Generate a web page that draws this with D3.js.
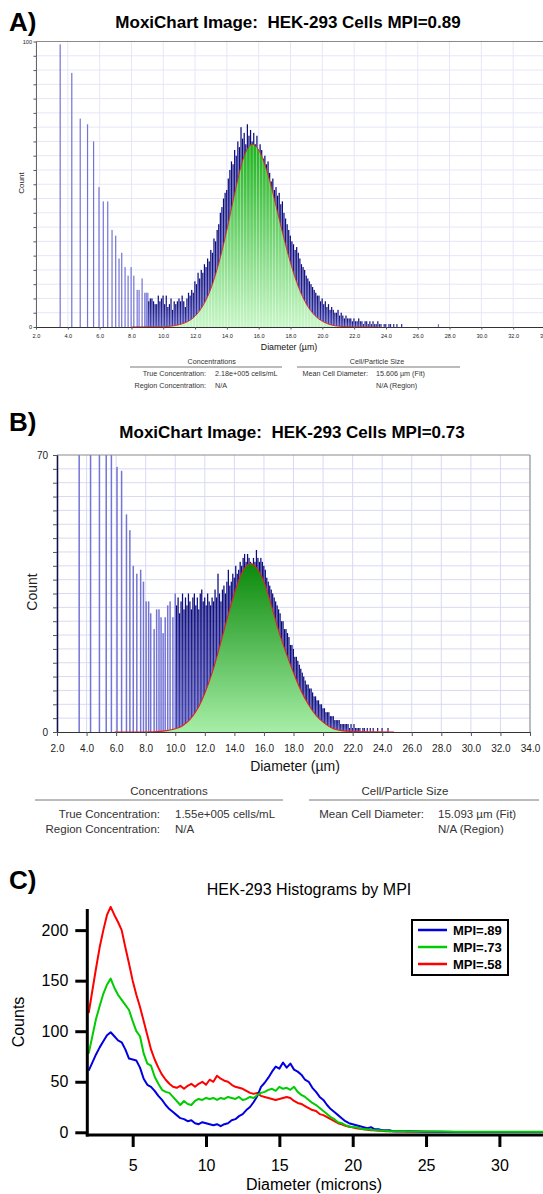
<!DOCTYPE html>
<html>
<head>
<meta charset="utf-8">
<script src="https://cdn.jsdelivr.net/npm/d3@7"></script>
<style>
  body { margin: 0; background: #fff; }
  svg { display: block; }
</style>
</head>
<body>
<script>
var FONT = '"Liberation Sans", Arial, sans-serif';

// ---- panel A: MoxiChart, MPI=0.89 ----
var aSpikeX = [2.02, 3.52, 4.25, 4.78, 5.24, 5.62, 5.96, 6.23, 6.51, 6.78, 7.01, 7.22, 7.39, 7.60, 7.79, 7.98,
               8.15, 8.36, 8.48, 8.67, 8.84, 8.93, 9.03, 27.3];
var aSpikeN = [60, 99, 89, 73, 71, 65, 49, 44, 44, 34, 32, 24, 26, 21, 18, 21,
               18, 13, 13, 17, 12, 12, 12, 1];
// counts per 0.1 um bin, 9.1 .. 25.0
var aBinN = [
  9, 10, 10, 9, 8, 8, 11, 9, 10, 11,
  8, 11, 7, 8, 10, 6, 9, 8, 9, 10,
  9, 11, 9, 7, 10, 12, 11, 13, 12, 16,
  15, 19, 17, 20, 19, 22, 21, 24, 23, 27,
  26, 31, 30, 34, 36, 40, 42, 45, 47, 48,
  52, 55, 58, 57, 62, 60, 65, 63, 70, 66,
  68, 64, 71, 67, 69, 65, 68, 64, 67, 61,
  64, 62, 59, 60, 57, 58, 54, 51, 52, 48,
  49, 46, 47, 43, 44, 40, 38, 36, 34, 32,
  30, 29, 27, 28, 26, 24, 22, 21, 20, 18,
  17, 16, 15, 14, 13, 12, 11, 11, 9, 10,
  8, 9, 7, 8, 6, 7, 6, 5, 5, 6,
  4, 5, 4, 3, 4, 3, 3, 3, 2, 3,
  2, 2, 3, 2, 2, 1, 2, 2, 1, 2,
  1, 2, 1, 1, 2, 1, 1, 0, 1, 1,
  0, 1, 1, 0, 1, 0, 1, 0, 0, 1
];
var aFitX = [8, 10, 10.5, 11, 11.5, 12, 12.5, 13, 13.5, 14, 14.5, 15, 15.6, 16, 16.5, 17, 17.5,
             18, 18.5, 19, 19.5, 20, 20.5, 21, 22, 23.5];
var aFitN = [0, 0.1, 0.3, 0.8, 1.8, 3.8, 7.5, 13.5, 22.5, 34, 47, 58.5, 64, 62, 55, 44.5, 33,
             22.5, 14, 8, 4.2, 2, 0.8, 0.3, 0, 0];

// ---- panel B: MoxiChart, MPI=0.73 ----
var bSpikeX = [2.02, 3.50, 4.27, 4.87, 5.33, 5.68, 6.06, 6.37, 6.70, 6.93, 7.16, 7.40, 7.66, 7.85,
               8.03, 8.20, 8.34, 8.57, 8.74, 8.90, 9.04, 9.18, 9.32, 9.49, 9.65, 9.84, 10.0];
var bSpikeN = [75, 95, 90, 84, 78, 74, 67, 66, 55, 51, 42, 40, 41, 38,
               33, 33, 30, 26, 31, 31, 29, 25, 29, 32, 33, 29, 35];
// counts per 0.1 um bin, 10.1 .. 25.0
var bBinN = [
  32, 34, 30, 33, 35, 31, 34, 32, 35, 33,
  31, 34, 35, 32, 34, 31, 35, 36, 33, 34,
  32, 35, 33, 32, 34, 33, 36, 34, 40, 35,
  33, 36, 37, 35, 38, 41, 37, 38, 40, 39,
  42, 40, 41, 43, 42, 44, 45, 43, 45, 44,
  43, 42, 44, 43, 46, 44, 43, 44, 43, 42,
  41, 39, 38, 37, 36, 35, 34, 33, 32, 31,
  30, 28, 28, 26, 26, 25, 24, 22, 22, 21,
  19, 19, 18, 17, 16, 15, 14, 13, 12, 12,
  11, 11, 10, 9, 9, 8, 8, 7, 7, 6,
  6, 5, 5, 5, 4, 4, 4, 3, 3, 3,
  3, 2, 2, 2, 2, 2, 2, 1, 2, 1,
  2, 1, 1, 1, 1, 0, 1, 1, 0, 1,
  0, 1, 0, 1, 0, 0, 1, 0, 0, 1,
  0, 0, 0, 1, 0, 0, 0, 0, 0, 0
];
var bFitX = [5.9, 8, 9, 10, 10.5, 11, 11.5, 12, 12.5, 13, 13.5, 14, 14.5, 15.09, 15.5, 16, 16.5,
             17, 17.5, 18, 18.5, 19, 19.5, 20, 20.5, 21, 22, 24.8];
var bFitN = [0, 0, 0.15, 0.8, 1.6, 3.2, 5.8, 9.8, 15, 21.5, 28.5, 35, 40.2, 42.6, 41.5, 38, 32,
             25.5, 20, 15, 10.5, 7, 4.3, 2.5, 1.2, 0.5, 0.1, 0];

var xTicksAB = [2, 4, 6, 8, 10, 12, 14, 16, 18, 20, 22, 24, 26, 28, 30, 32, 34];

// ---- panel C: overlaid histograms ----
var cDiam = [
  2.0, 2.25, 2.5, 2.75, 3.0, 3.25, 3.5, 3.75, 4.0, 4.25,
  4.5, 4.75, 5.0, 5.25, 5.5, 5.75, 6.0, 6.25, 6.5, 6.75,
  7.0, 7.25, 7.5, 7.75, 8.0, 8.25, 8.5, 8.75, 9.0, 9.25,
  9.5, 9.75, 10.0, 10.25, 10.5, 10.75, 11.0, 11.25, 11.5, 11.75,
  12.0, 12.25, 12.5, 12.75, 13.0, 13.25, 13.5, 13.75, 14.0, 14.25,
  14.5, 14.75, 15.0, 15.25, 15.5, 15.75, 16.0, 16.25, 16.5, 16.75,
  17.0, 17.25, 17.5, 17.75, 18.0, 18.25, 18.5, 18.75, 19.0, 19.25,
  19.5, 19.75, 20.0, 20.25, 20.5, 20.75, 21.0, 21.25, 21.5, 21.75,
  22.0, 22.25, 22.5, 22.75, 23.0, 23.25, 23.5, 23.75, 24.0,
  25, 26, 27, 28, 29, 30, 31, 32, 33
];
var cMpi89 = [
  61, 69, 77, 84, 90, 96, 99, 95, 91, 89,
  82, 73, 72, 71, 64, 53, 47, 45, 41, 36,
  32, 27, 23, 20, 17, 14, 13, 11, 12, 9,
  8, 10, 9, 8, 7, 8, 6, 8, 9, 12,
  13, 16, 18, 22, 25, 30, 36, 45, 49, 54,
  60, 65, 63, 69, 64, 68, 62, 60, 57, 52,
  50, 44, 40, 35, 32, 27, 23, 20, 17, 14,
  11, 9, 8, 7, 6, 5, 4, 5, 3, 3,
  2, 2, 2, 1, 1, 1, 1, 1, 1,
  0.5, 0.5, 0.3, 0.3, 0.2, 0.2, 0.2, 0.2, 0.2
];
var cMpi73 = [
  78, 95, 112, 125, 137, 146, 152, 143, 136, 131,
  126, 121, 110, 100, 95, 78, 68, 66, 55, 48,
  42, 40, 39, 35, 31, 27, 31, 28, 27, 31,
  33, 32, 34, 33, 34, 32, 34, 33, 35, 34,
  33, 35, 32, 33, 35, 34, 37, 39, 40, 42,
  43, 41, 45, 43, 44, 42, 45, 40, 37, 35,
  32, 29, 27, 24, 21, 18, 15, 13, 10, 9,
  7, 6, 5, 5, 4, 3, 3, 2.5, 2, 2,
  1.5, 1.5, 1, 1, 1, 1, 1, 0.8, 0.8,
  0.8, 0.7, 0.6, 0.5, 0.5, 0.5, 0.5, 0.5, 0.5
];
var cMpi58 = [
  118, 140, 162, 183, 200, 215, 223, 215, 208, 200,
  183, 167, 150, 136, 124, 110, 96, 82, 72, 64,
  57, 52, 48, 45, 44, 46, 43, 46, 48, 45,
  48, 50, 47, 52, 50, 56, 53, 51, 50, 47,
  45, 44, 43, 41, 39, 38, 39, 36, 35, 34,
  33, 32, 33, 34, 35, 34, 31, 29, 28, 26,
  24, 22, 21, 18, 17, 15, 13, 11, 9, 8,
  6.5, 5.5, 5, 4, 3.5, 3, 2.5, 2, 2, 1.5,
  1.5, 1, 1, 1, 0.8, 0.8, 0.7, 0.6, 0.6,
  0.5, 0.4, 0.3, 0.3, 0.3, 0.3, 0.3, 0.3, 0.3
];
var cNames  = ['MPI=.89', 'MPI=.73', 'MPI=.58'],
    cColors = ['#0000e0', '#00cc00', '#ff0000'],
    cYTicks = [0, 50, 100, 150, 200],
    cXTicks = [5, 10, 15, 20, 25, 30];


var svg = d3.select('body').append('svg')
    .attr('width', 543).attr('height', 1194)
    .attr('font-family', FONT);
var defs = svg.append('defs');

function vgrad(id, top, bottom) {
  var g = defs.append('linearGradient').attr('id', id)
      .attr('x1', 0).attr('y1', 0).attr('x2', 0).attr('y2', 1);
  g.append('stop').attr('offset', 0).attr('stop-color', top);
  g.append('stop').attr('offset', 1).attr('stop-color', bottom);
}
vgrad('blueBar', '#0a0a7c', '#4848b4');
vgrad('greenA', '#1eb21e', '#c8f6c8');
vgrad('greenB', '#0b8a0b', '#a6eea6');

defs.append('pattern').attr('id', 'gaps').attr('patternUnits', 'userSpaceOnUse')
    .attr('width', 3.2).attr('height', 10)
  .append('rect').attr('width', 0.7).attr('height', 10).attr('fill', '#fff').attr('opacity', 0.5);

function label(g, x, y, s, size, anchor, weight, fill) {
  return g.append('text')
      .attr('x', x).attr('y', y)
      .attr('font-size', size)
      .attr('text-anchor', anchor || 'start')
      .attr('font-weight', weight || 'normal')
      .attr('fill', fill || '#000')
      .style('white-space', 'pre')
      .text(s);
}

// one MoxiChart histogram panel
function moxi(o) {
  var x = d3.scaleLinear().domain([2, 34]).range([o.left, o.right]),
      y = d3.scaleLinear().domain([0, o.ymax]).range([o.bottom, o.top]),
      g = svg.append('g'),
      binPx = x(2.1) - x(2);

  defs.append('clipPath').attr('id', 'clip' + o.id)
    .append('rect')
      .attr('x', o.left).attr('y', o.top)
      .attr('width', o.right - o.left).attr('height', o.bottom - o.top);

  // grid
  g.selectAll('.vg').data(xTicksAB).enter().append('line')
      .attr('x1', x).attr('x2', x)
      .attr('y1', o.top).attr('y2', o.bottom)
      .attr('stroke', o.grid);
  g.selectAll('.hg').data(d3.range(1, 20)).enter().append('line')
      .attr('x1', o.left).attr('x2', o.right)
      .attr('y1', function(i) { return y(i * o.ymax / 20); })
      .attr('y2', function(i) { return y(i * o.ymax / 20); })
      .attr('stroke', o.grid);

  var plot = g.append('g').attr('clip-path', 'url(#clip' + o.id + ')');

  plot.selectAll('.spike').data(d3.zip(o.spikeX, o.spikeN)).enter().append('rect')
      .attr('x', function(d) { return x(d[0]) - o.spikeW / 2; })
      .attr('width', o.spikeW)
      .attr('y', function(d) { return y(d[1]); })
      .attr('height', function(d) { return y(0) - y(d[1]); })
      .attr('fill', '#7474d4');

  var bins = o.binN.map(function(n, i) { return [o.binStart + i * 0.1, n]; });
  plot.selectAll('.bin').data(bins).enter().append('rect')
      .attr('x', function(d) { return x(d[0]) - binPx / 2; })
      .attr('width', binPx * o.fill)
      .attr('y', function(d) { return y(d[1]); })
      .attr('height', function(d) { return y(0) - y(d[1]); })
      .attr('fill', 'url(#blueBar)');

  // gaussian fit
  var fit = d3.zip(o.fitX, o.fitN);
  var area = d3.area()
      .x(function(d) { return x(d[0]); })
      .y0(y(0))
      .y1(function(d) { return y(d[1]); })
      .curve(d3.curveMonotoneX);
  plot.append('path').attr('d', area(fit)).attr('fill', 'url(#' + o.green + ')');
  if (o.gaps) plot.append('path').attr('d', area(fit)).attr('fill', 'url(#gaps)');
  plot.append('path')
      .attr('d', d3.line().x(function(d) { return x(d[0]); })
                          .y(function(d) { return y(d[1]); })
                          .curve(d3.curveMonotoneX)(fit))
      .attr('fill', 'none').attr('stroke', '#e5231b').attr('stroke-width', o.redW);

  // frame
  g.append('line').attr('x1', o.left).attr('x2', o.right).attr('y1', o.top).attr('y2', o.top)
      .attr('stroke', '#8a8a8a');
  g.append('line').attr('x1', o.right).attr('x2', o.right).attr('y1', o.top).attr('y2', o.bottom)
      .attr('stroke', '#8a8a8a');

  var yAxis = d3.axisLeft(y)
      .tickValues(d3.range(0, 21).map(function(i) { return i * o.ymax / 20; }))
      .tickFormat(function(d) { return d === 0 || d === o.ymax ? d : ''; })
      .tickSize(o.tk).tickSizeOuter(0).tickPadding(o.ypad);
  g.append('g').attr('transform', 'translate(' + o.left + ',0)').call(yAxis)
      .attr('font-family', FONT).attr('font-size', o.tickFont)
      .call(function(s) { s.select('.domain').attr('stroke', o.yAxisColor).attr('stroke-width', o.axisW); })
      .call(function(s) { s.selectAll('.tick line').attr('stroke', '#555'); })
      .call(function(s) { s.selectAll('.tick text').attr('fill', '#222'); });

  var xAxis = d3.axisBottom(x)
      .tickValues(xTicksAB).tickFormat(d3.format('.1f'))
      .tickSize(o.tk).tickSizeOuter(0).tickPadding(o.xpad);
  g.append('g').attr('transform', 'translate(0,' + o.bottom + ')').call(xAxis)
      .attr('font-family', FONT).attr('font-size', o.tickFont)
      .call(function(s) { s.select('.domain').attr('stroke', '#333'); })
      .call(function(s) { s.selectAll('.tick line').attr('stroke', '#555'); })
      .call(function(s) { s.selectAll('.tick text').attr('fill', '#222'); });

  // titles
  label(svg, 9, o.tagY, o.tag, 26, 'start', 'bold');
  label(svg, o.titleX, o.titleY, o.title, 17, 'middle', 'bold');
  label(svg, o.xlabX, o.xlabY, 'Diameter (\u00b5m)', o.xlabFont, 'middle', 'normal', '#111');
  label(svg, 0, 0, 'Count', o.countFont, 'middle', 'normal', '#222')
      .attr('transform', 'translate(' + o.countX + ',' + o.countY + ') rotate(-90)');

  // concentration table
  var t = o.table, c = '#333';
  label(svg, t.c1, t.hy, 'Concentrations', t.font, 'middle', 'normal', c);
  label(svg, t.c2, t.hy, 'Cell/Particle Size', t.font, 'middle', 'normal', c);
  svg.append('line').attr('x1', t.l1[0]).attr('x2', t.l1[1]).attr('y1', t.ly).attr('y2', t.ly)
      .attr('stroke', '#555').attr('stroke-width', 0.8);
  svg.append('line').attr('x1', t.l2[0]).attr('x2', t.l2[1]).attr('y1', t.ly).attr('y2', t.ly)
      .attr('stroke', '#555').attr('stroke-width', 0.8);
  label(svg, t.k1, t.r1, 'True Concentration:', t.font, 'end', 'normal', c);
  label(svg, t.v1, t.r1, o.conc, t.font, 'start', 'normal', c);
  label(svg, t.k2, t.r1, 'Mean Cell Diameter:', t.font, 'end', 'normal', c);
  label(svg, t.v2, t.r1, o.mean, t.font, 'start', 'normal', c);
  label(svg, t.k1, t.r2, 'Region Concentration:', t.font, 'end', 'normal', c);
  label(svg, t.v1, t.r2, 'N/A', t.font, 'start', 'normal', c);
  label(svg, t.v2, t.r2, 'N/A (Region)', t.font, 'start', 'normal', c);
}

moxi({
  id: 'A', left: 36, right: 545, top: 41.5, bottom: 327, ymax: 100,
  spikeX: aSpikeX, spikeN: aSpikeN, spikeW: 1.2,
  binStart: 9.1, binN: aBinN, fill: 0.78,
  fitX: aFitX, fitN: aFitN, green: 'greenA', gaps: true, redW: 0.9,
  grid: '#e6e6fa', yAxisColor: '#666', axisW: 1,
  tk: 2.5, ypad: 1.5, xpad: 4.5, tickFont: 5.6,
  tag: 'A)', tagY: 31,
  title: 'MoxiChart Image:  HEK-293 Cells MPI=0.89', titleX: 288, titleY: 28,
  xlabX: 289, xlabY: 350, xlabFont: 8.8,
  countX: 23.5, countY: 183, countFont: 8,
  conc: '2.18e+005 cells/mL', mean: '15.606 \u00b5m (Fit)',
  table: { font: 7.2, hy: 364, ly: 367, r1: 376, r2: 388,
           c1: 211.7, c2: 377, l1: [130, 282], l2: [297, 460],
           k1: 206, v1: 215, k2: 368, v2: 376 }
});

moxi({
  id: 'B', left: 57, right: 530, top: 455, bottom: 732, ymax: 70,
  spikeX: bSpikeX, spikeN: bSpikeN, spikeW: 1.5,
  binStart: 10.1, binN: bBinN, fill: 0.85,
  fitX: bFitX, fitN: bFitN, green: 'greenB', gaps: false, redW: 1.1,
  grid: '#d9d9f5', yAxisColor: '#10104a', axisW: 1.5,
  tk: 4, ypad: 5, xpad: 9, tickFont: 10,
  tag: 'B)', tagY: 431,
  title: 'MoxiChart Image:  HEK-293 Cells MPI=0.73', titleX: 292, titleY: 438,
  xlabX: 295, xlabY: 771, xlabFont: 14,
  countX: 36.5, countY: 592, countFont: 14,
  conc: '1.55e+005 cells/mL', mean: '15.093 \u00b5m (Fit)',
  table: { font: 11.5, hy: 795, ly: 800, r1: 818, r2: 833,
           c1: 169, c2: 405, l1: [35, 283], l2: [309, 539],
           k1: 160, v1: 175, k2: 424, v2: 438 }
});

// ---- panel C ----
var xC = d3.scaleLinear().domain([1.9, 33.3]).range([87.2, 547.8]),
    yC = d3.scaleLinear().domain([0, 220]).range([1132.3, 909.9]);
var gC = svg.append('g');

var line = d3.line()
    .x(function(d, i) { return xC(cDiam[i]); })
    .y(function(d) { return yC(d); });
[cMpi58, cMpi89, cMpi73].forEach(function(s) {
  var k = [cMpi89, cMpi73, cMpi58].indexOf(s);
  gC.append('path').attr('d', line(s))
      .attr('fill', 'none').attr('stroke', cColors[k]).attr('stroke-width', 2)
      .attr('stroke-linejoin', 'round');
});

gC.append('g').attr('transform', 'translate(87.3,0)')
    .call(d3.axisLeft(yC).tickValues(cYTicks).tickSize(12).tickPadding(7))
    .attr('font-family', FONT).attr('font-size', 16)
    .call(function(s) { s.select('.domain').remove(); })
    .call(function(s) { s.selectAll('.tick line').attr('stroke', '#000').attr('stroke-width', 3); })
    .call(function(s) { s.selectAll('.tick text').attr('fill', '#000'); });
gC.append('g').attr('transform', 'translate(0,1135)')
    .call(d3.axisBottom(xC).tickValues(cXTicks).tickSize(12).tickPadding(13))
    .attr('font-family', FONT).attr('font-size', 16)
    .call(function(s) { s.select('.domain').remove(); })
    .call(function(s) { s.selectAll('.tick line').attr('stroke', '#000').attr('stroke-width', 3); })
    .call(function(s) { s.selectAll('.tick text').attr('fill', '#000'); });
gC.append('line').attr('x1', 87.3).attr('x2', 87.3).attr('y1', 909).attr('y2', 1136.5)
    .attr('stroke', '#000').attr('stroke-width', 3);
gC.append('line').attr('x1', 85.8).attr('x2', 545).attr('y1', 1135).attr('y2', 1135)
    .attr('stroke', '#000').attr('stroke-width', 3);

label(svg, 9, 889, 'C)', 26, 'start', 'bold');
label(svg, 309, 895, 'HEK-293 Histograms by MPI', 16, 'middle');
label(svg, 314, 1190, 'Diameter (microns)', 16, 'middle');
label(svg, 0, 0, 'Counts', 16, 'middle').attr('transform', 'translate(23.5,1022) rotate(-90)');

// legend
var leg = svg.append('g');
leg.append('rect').attr('x', 412).attr('y', 920).attr('width', 96).attr('height', 55)
    .attr('fill', '#fff').attr('stroke', '#000').attr('stroke-width', 2);
cNames.forEach(function(n, i) {
  var ly = 930 + i * 17;
  leg.append('line').attr('x1', 418).attr('x2', 447).attr('y1', ly).attr('y2', ly)
      .attr('stroke', cColors[i]).attr('stroke-width', 2.5);
  label(leg, 453, ly + 4.5, n, 13, 'start', 'bold');
});
</script>
</body>
</html>
